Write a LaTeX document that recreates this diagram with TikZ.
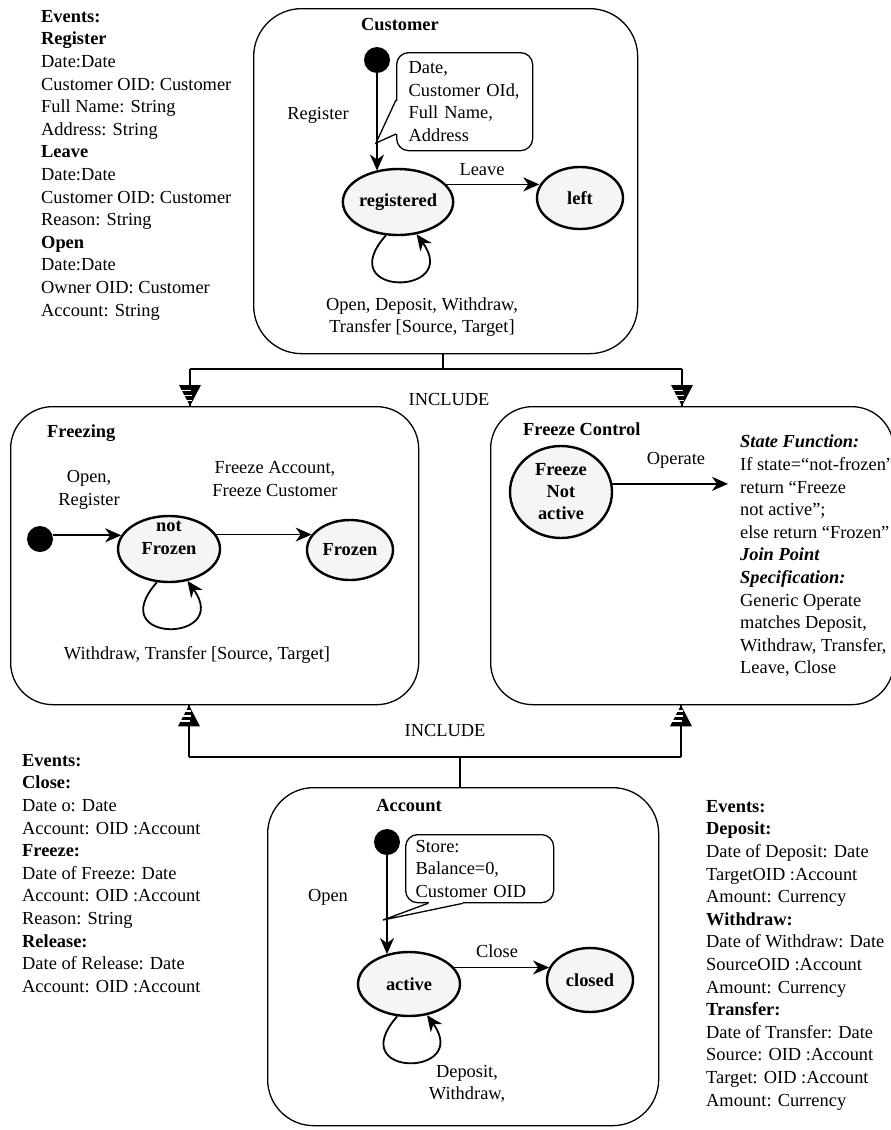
\documentclass[tikz,border=0pt]{standalone}
\usepackage{fontspec}
\setmainfont{Liberation Serif}
\usetikzlibrary{arrows.meta,shapes.geometric,calc}

\begin{document}
\begin{tikzpicture}[x=1pt,y=-1pt,
  every node/.style={font=\fontsize{18.4}{22.6}\selectfont, inner sep=0pt},
  boxframe/.style={draw, line width=1.3pt, rounded corners=#1, anchor=north west, inner sep=0pt},
  boxframe/.default=45pt,
  stnode/.style={ellipse, draw, line width=2.4pt, fill=gray!8, inner sep=0pt,
    font=\fontsize{18.4}{22}\selectfont\bfseries, align=center},
  stlabel/.style={font=\fontsize{18.4}{22.6}\selectfont\bfseries, align=center},
  startdot/.style={circle, fill=black, minimum size=26pt, inner sep=0pt},
  tr/.style={line width=1.8pt, -{Stealth[length=16pt,width=14pt,inset=5pt]}},
  inc/.style={line width=1.3pt},
  note/.style={draw, line width=1.3pt, rounded corners=12pt, anchor=north west, align=left},
  notetail/.style={line width=1.3pt},
  ttl/.style={font=\fontsize{18.4}{22.6}\selectfont\bfseries},
  lst/.style={anchor=north west, align=left},
  inctip/.pic={
    \fill (-11,-21) -- (11,-21) -- (0,0) -- cycle;
    \draw[white, line width=1.4pt] (-13,-15.5) -- (1,-15.5) (-13,-10.5) -- (1.5,-10.5) (-13,-5.5) -- (2,-5.5);
  }
]
\useasboundingbox (0,0) rectangle (891,1130);

% ---------- composite state frames ----------
\node[boxframe=48pt, minimum width=384pt, minimum height=345pt] (cust) at (253,8) {};
\node[boxframe=42pt, minimum width=408pt, minimum height=298pt] (frz) at (10,406) {};
\node[boxframe=42pt, minimum width=403pt, minimum height=298pt] (ctl) at (490,406) {};
\node[boxframe=46pt, minimum width=391pt, minimum height=338pt] (acc) at (267,787) {};

\node[ttl] (custT) at (400,25) {Customer};
\node[ttl, anchor=west] (frzT) at (47,433) {Freezing};
\node[ttl, anchor=west] (ctlT) at (523,429) {Freeze Control};
\node[ttl] (accT) at (409,806) {Account};

% ---------- event lists ----------
\node[lst] (ev1) at (41,10) {\textbf{Events:}\\\textbf{Register}\\Date:Date\\Customer OID: Customer\\Full Name: String\\Address: String\\\textbf{Leave}\\Date:Date\\Customer OID: Customer\\Reason: String\\\textbf{Open}\\Date:Date\\Owner OID: Customer\\Account: String};

\node[lst] (ev2) at (22,754) {\textbf{Events:}\\\textbf{Close:}\\Date o: Date\\Account: OID :Account\\\textbf{Freeze:}\\Date of Freeze: Date\\Account: OID :Account\\Reason: String\\\textbf{Release:}\\Date of Release: Date\\Account: OID :Account};

\node[lst] (ev3) at (706,800) {\textbf{Events:}\\\textbf{Deposit:}\\Date of Deposit: Date\\TargetOID :Account\\Amount: Currency\\\textbf{Withdraw:}\\Date of Withdraw: Date\\SourceOID :Account\\Amount: Currency\\\textbf{Transfer:}\\Date of Transfer: Date\\Source: OID :Account\\Target: OID :Account\\Amount: Currency};

% ---------- Customer ----------
\node[startdot] (d1) at (377,60) {};
\node[stnode, minimum width=102pt, minimum height=66pt] (reg) at (398,202) {registered};
\node[stnode, minimum width=86pt, minimum height=62pt] (lft) at (580,198) {left};

\node[note, text width=112pt, inner xsep=12pt, minimum height=98pt] (cn1) at (396,52)
  {Date,\\Customer OId,\\Full Name,\\Address};
\coordinate (cn1tip) at (376,143);
\fill[white] ($(cn1.north west)+(-1.5,48.5)$) rectangle ($(cn1.north west)+(1.5,81.5)$);
\draw[notetail] ($(cn1.north west)+(0,48)$) -- (cn1tip) -- ($(cn1.north west)+(0,82)$);

\draw[tr] (d1.south) -- (d1 |- reg.125);
\draw[tr] (reg.20) -- (reg.20 -| lft.163);
\draw[tr] (reg.250) .. controls +(-55,62) and +(45,62) .. (reg.300);

\node (lReg) at (318,115) {Register};
\node (lLeave) at (482,170) {Leave};
\node[align=center] (lCustSelf) at (422,317) {Open, Deposit, Withdraw,\\Transfer [Source, Target]};

% ---------- include connectors (upper) ----------
\coordinate (j1) at (443,369);
\coordinate (j1L) at (190,369);
\coordinate (j1R) at (682,369);
\draw[inc] (cust.south -| j1) -- (j1);
\draw[inc] (j1L) -- (j1R);
\draw[inc] (j1L) -- (j1L |- frz.north);
\draw[inc] (j1R) -- (j1R |- ctl.north);
\pic at (j1L |- frz.north) {inctip};
\pic at (j1R |- ctl.north) {inctip};
\node (inc1) at (449,399) {INCLUDE};

% ---------- Freezing ----------
\node[startdot] (d2) at (40,539) {};
\node[stnode, minimum width=102pt, minimum height=66pt] (nf) at (169,549) {};
\node[stlabel] (nfText) at ($(nf)+(0,-11)$) {not\\Frozen};
\node[stnode, minimum width=86pt, minimum height=60pt] (fz) at (350,550) {Frozen};

\draw[tr] (d2.east |- nf.164) -- (nf.164);
\draw[tr] (nf.17) -- (nf.17 -| fz.158);
\draw[tr] (nf.250) .. controls +(-55,62) and +(45,62) .. (nf.300);

\node[align=center] (lOpenReg) at (89,490) {Open,\\Register};
\node[align=center] (lFreeze) at (275,479) {Freeze Account,\\Freeze Customer};
\node (lFrzSelf) at (197,655) {Withdraw, Transfer [Source, Target]};

% ---------- Freeze Control ----------
\node[stnode, minimum width=102pt, minimum height=92pt] (fna) at (561,492) {Freeze\\Not\\active};
\coordinate (opEnd) at (728,484);
\draw[tr] (fna.9) -- (fna.9 -| opEnd);
\node (lOperate) at (676,460) {Operate};

\node[lst] (sfText) at (740,435) {\textbf{\textit{State Function:}}\\If state=“not-frozen”\\return “Freeze\\not active”;\\else return “Frozen”\\\textbf{\textit{Join Point}}\\\textbf{\textit{Specification:}}\\Generic Operate\\matches Deposit,\\Withdraw, Transfer,\\Leave, Close};

% ---------- include connectors (lower) ----------
\coordinate (j2) at (460,757);
\coordinate (j2L) at (189,757);
\coordinate (j2R) at (681,757);
\draw[inc] (acc.north -| j2) -- (j2);
\draw[inc] (j2L) -- (j2R);
\draw[inc] (j2L) -- (j2L |- frz.south);
\draw[inc] (j2R) -- (j2R |- ctl.south);
\pic[yscale=-1] at (j2L |- frz.south) {inctip};
\pic[yscale=-1] at (j2R |- ctl.south) {inctip};
\node (inc2) at (445,730) {INCLUDE};

% ---------- Account ----------
\node[startdot] (d3) at (387,842) {};
\node[stnode, minimum width=102pt, minimum height=64pt] (act) at (409,984) {active};
\node[stnode, minimum width=86pt, minimum height=64pt] (cls) at (590,980) {closed};

\node[note, text width=128pt, inner xsep=10pt, minimum height=68pt] (cn2) at (405,834)
  {Store:\\Balance=0,\\Customer OID};
\coordinate (cn2tip) at (383,920);
\fill[white] ($(cn2.south west)+(23.5,-1.5)$) rectangle ($(cn2.south west)+(57.5,1.5)$);
\draw[notetail] ($(cn2.south west)+(23,0)$) -- (cn2tip) -- ($(cn2.south west)+(58,0)$);

\draw[tr] (d3.south) -- (d3 |- act.127);
\draw[tr] (act.20) -- (act.20 -| cls.163);
\draw[tr] (act.250) .. controls +(-55,62) and +(45,62) .. (act.300);

\node (lOpen) at (328,897) {Open};
\node (lClose) at (497,951) {Close};
\node[align=center] (lActSelf) at (467,1084) {Deposit,\\Withdraw,};

\end{tikzpicture}
\end{document}
